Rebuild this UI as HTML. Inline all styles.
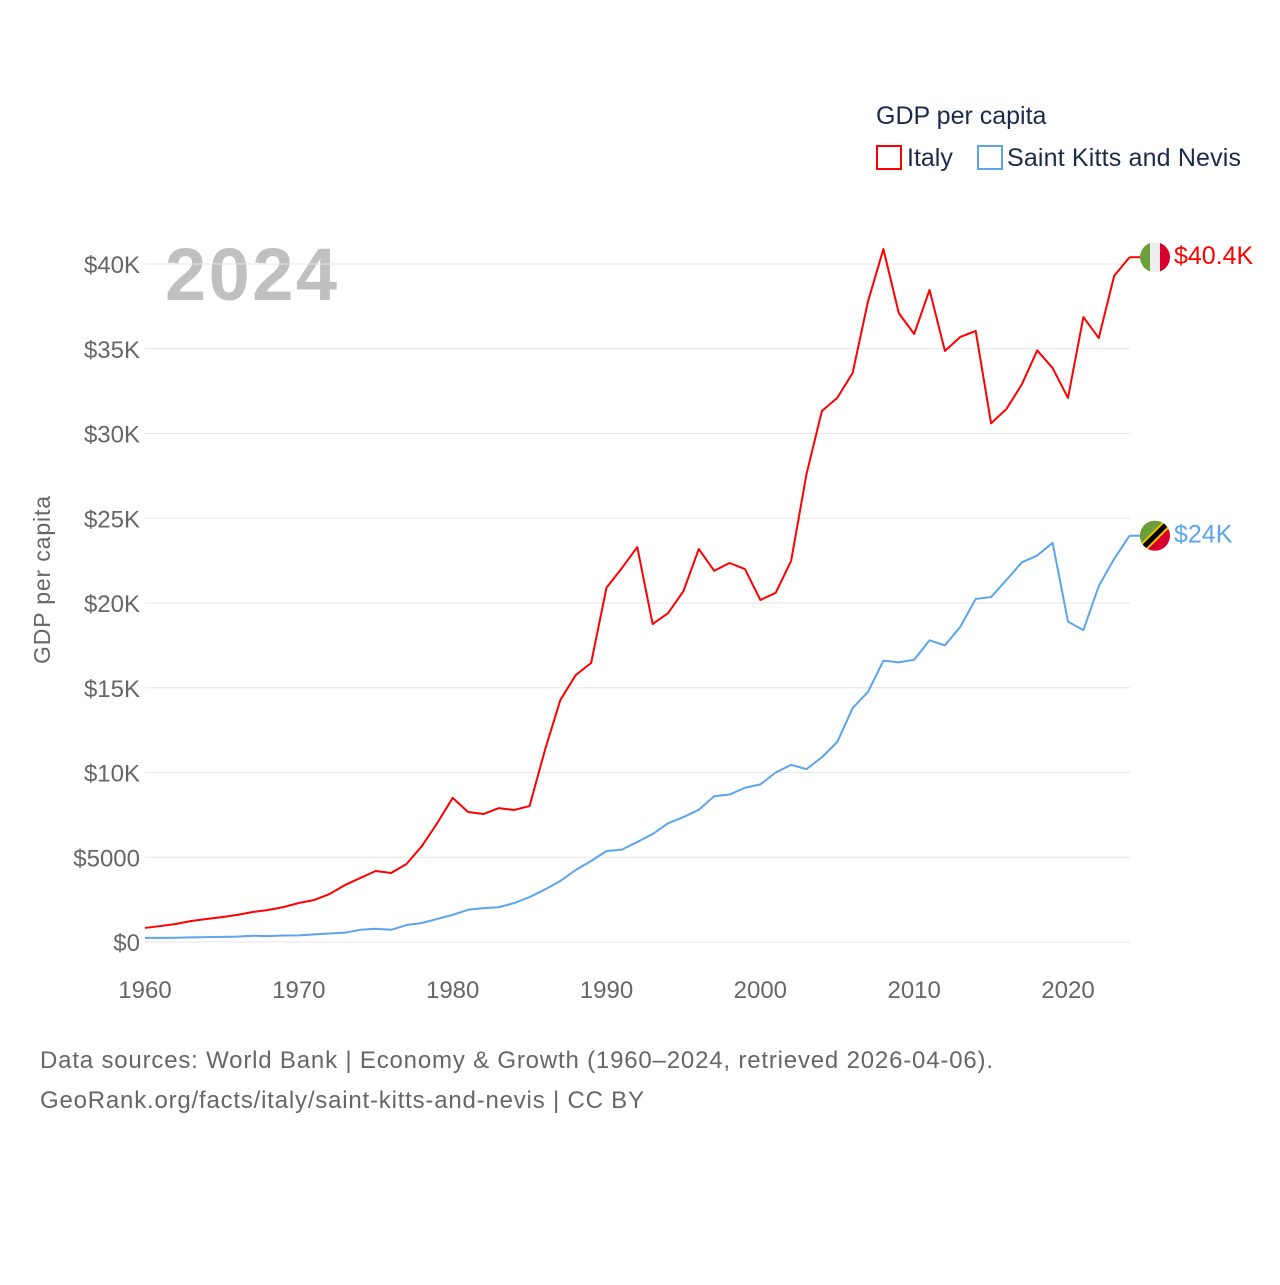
<!DOCTYPE html>
<html><head><meta charset="utf-8"><style>
body{margin:0;background:#fff;width:1280px;height:1280px;overflow:hidden}
svg{font-family:"Liberation Sans",sans-serif}
</style></head><body>
<svg id="c" width="1280" height="1280">
<text x="876" y="124" font-size="25" fill="#1b2a4a">GDP per capita</text>
<g><rect x="877" y="146" width="24" height="23" fill="none" stroke="#f00" stroke-width="2"/><text x="907" y="166" font-size="25" fill="#1b2a4a">Italy</text></g>
<g><rect x="978" y="146" width="24" height="23" fill="none" stroke="#5aa5ec" stroke-width="2"/><text x="1007" y="166" font-size="25" fill="#1b2a4a" textLength="234">Saint Kitts and Nevis</text></g>
<text x="165" y="300" font-size="74" font-weight="bold" fill="#c0c0c0" textLength="172">2024</text>
<text transform="translate(50,580) rotate(-90)" text-anchor="middle" font-size="23" fill="#666" textLength="168">GDP per capita</text>
<text x="40" y="1068" font-size="24" fill="#666" textLength="953">Data sources: World Bank | Economy &amp; Growth (1960–2024, retrieved 2026-04-06).</text>
<text x="40" y="1108" font-size="24" fill="#666" textLength="604">GeoRank.org/facts/italy/saint-kitts-and-nevis | CC BY</text>
<g id="grid"></g><g id="lines"></g>
</svg>
<script>
const years=[];for(let y=1960;y<=2024;y++)years.push(y);
const italy=[0.83,0.94,1.06,1.24,1.36,1.47,1.6,1.77,1.89,2.06,2.3,2.48,2.83,3.36,3.78,4.19,4.07,4.6,5.66,7.02,8.5,7.67,7.55,7.9,7.79,8.02,11.33,14.28,15.75,16.46,20.9,22.06,23.3,18.76,19.4,20.7,23.19,21.9,22.36,22.0,20.18,20.6,22.48,27.6,31.33,32.1,33.57,37.8,40.88,37.1,35.87,38.47,34.87,35.7,36.05,30.6,31.45,32.9,34.9,33.86,32.1,36.87,35.63,39.3,40.4];
const skn=[0.24,0.24,0.25,0.27,0.29,0.3,0.32,0.37,0.35,0.38,0.39,0.45,0.5,0.55,0.72,0.78,0.72,1.0,1.12,1.36,1.6,1.9,2.0,2.05,2.3,2.65,3.1,3.6,4.25,4.78,5.37,5.45,5.9,6.37,7.0,7.37,7.8,8.6,8.7,9.1,9.3,10.0,10.45,10.2,10.9,11.8,13.8,14.75,16.6,16.5,16.65,17.8,17.5,18.6,20.24,20.35,21.36,22.4,22.8,23.55,18.9,18.4,21.0,22.6,23.97];
const yTicks=[0,5,10,15,20,25,30,35,40];
const yTickLabels=["$0","$5000","$10K","$15K","$20K","$25K","$30K","$35K","$40K"];
const xTicks=[1960,1970,1980,1990,2000,2010,2020];
const X=y=>145+(y-1960)*(1068-145)/60;
const Y=v=>942-v*(942-264)/40;
const NS="http://www.w3.org/2000/svg";
function mk(t,a,p){const e=document.createElementNS(NS,t);for(const k in a)e.setAttribute(k,a[k]);p.appendChild(e);return e;}
const g=document.getElementById('grid'),L=document.getElementById('lines');
yTicks.forEach((v,i)=>{
 const l=mk('line',{x1:145,x2:1130,y1:Y(v),y2:Y(v),stroke:'#e6e6e6','stroke-width':1},g);
 
 
 const t=mk('text',{x:140,y:Y(v)+9,'text-anchor':'end','font-size':24,fill:'#666'},g);t.textContent=yTickLabels[i];
 
 
});
xTicks.forEach(v=>{
 const t=mk('text',{x:X(v),y:998,'text-anchor':'middle','font-size':24,fill:'#666'},g);t.textContent=v;
 
 
});
function line(d,c,name){
 const p=mk('polyline',{points:d.map((v,i)=>X(years[i])+','+Y(v)).join(' '),fill:'none',stroke:c,'stroke-width':2,'stroke-linejoin':'round'},L);
 
 
}
line(italy,'#f00','italy-line');line(skn,'#5aa5ec','skn-line');
function endLabel(v,c,txt,flag,name){
 const y=Y(v),x=1155;
 const grp=mk('g',{},L);
 
 
 mk('line',{x1:X(2024),x2:x-15,y1:y,y2:y,stroke:c,'stroke-width':2},grp);
 const cp=mk('clipPath',{id:'cl'+name},grp);mk('circle',{cx:x,cy:y,r:15},cp);
 const f=mk('g',{'clip-path':'url(#cl'+name+')'},grp);
 if(flag==='it'){mk('rect',{x:x-15,y:y-15,width:10,height:30,fill:'#6a9f3a'},f);mk('rect',{x:x-5,y:y-15,width:10,height:30,fill:'#eee'},f);mk('rect',{x:x+5,y:y-15,width:10,height:30,fill:'#d8002a'},f);}
 else{mk('rect',{x:x-15,y:y-15,width:30,height:30,fill:'#d8002a'},f);mk('polygon',{points:`${x-15},${y-15} ${x+15},${y-15} ${x-15},${y+15}`,fill:'#6a9f3a'},f);mk('line',{x1:x-15,y1:y+15,x2:x+15,y2:y-15,stroke:'#f5c400','stroke-width':9},f);mk('line',{x1:x-15,y1:y+15,x2:x+15,y2:y-15,stroke:'#000','stroke-width':5},f);}
 const t=mk('text',{x:1174,y:y+7,'font-size':25,fill:c},grp);t.textContent=txt;
}
endLabel(italy[italy.length-1],'#f00','$40.4K','it','italy-end-label');
endLabel(skn[skn.length-1],'#5aa5ec','$24K','kn','skn-end-label');
</script>
</body></html>
